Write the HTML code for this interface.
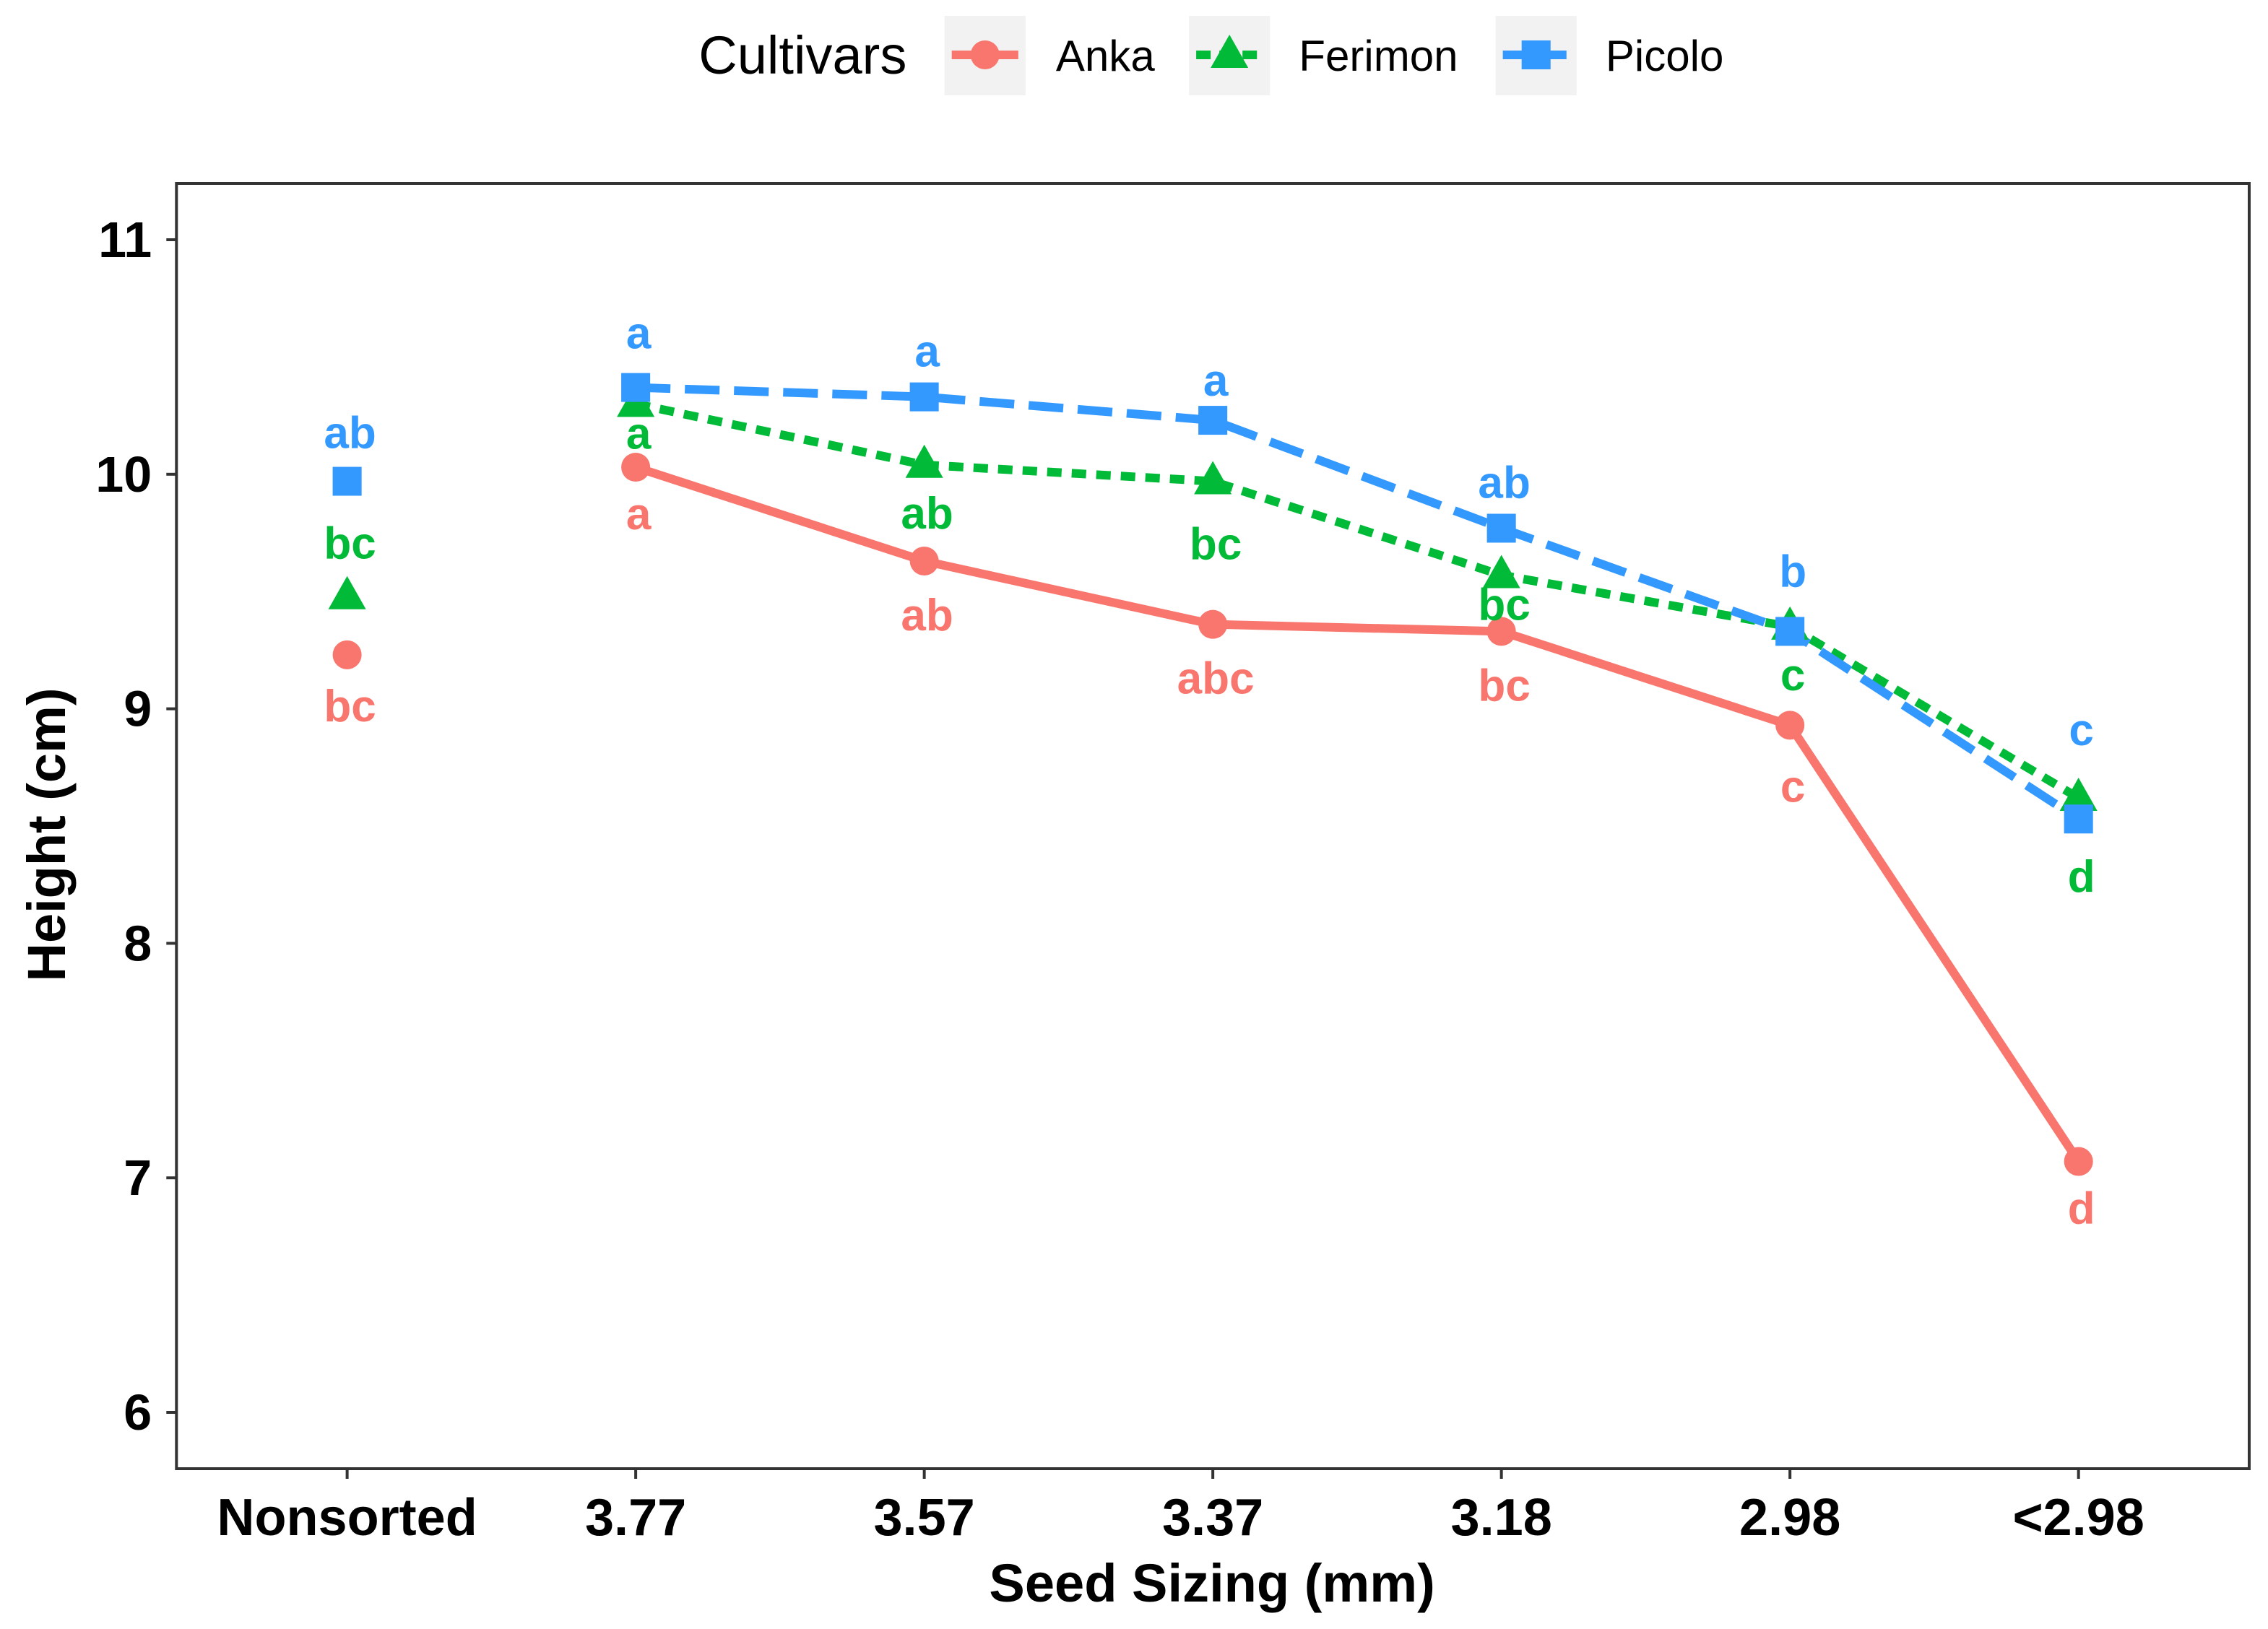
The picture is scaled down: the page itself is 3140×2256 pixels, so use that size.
<!DOCTYPE html>
<html><head><meta charset="utf-8"><style>
html,body{margin:0;padding:0;background:#fff;width:3140px;height:2256px;overflow:hidden}
svg{display:block}
text{font-family:"Liberation Sans",Arial,sans-serif}
</style></head><body>
<svg id="chart" width="3140" height="2256" viewBox="0 0 1568 1128" preserveAspectRatio="none" xmlns="http://www.w3.org/2000/svg">
<g>
<text x="483" y="51" font-size="37" fill="#000">Cultivars</text>
<rect x="653" y="11" width="56" height="55" fill="#f2f2f2"/>
<line x1="658" y1="38" x2="704" y2="38" stroke="#F8766D" stroke-width="6"/>
<circle cx="681" cy="38" r="10" fill="#F8766D"/>
<text x="730" y="49" font-size="30" fill="#000">Anka</text>
<rect x="822" y="11" width="56" height="55" fill="#f2f2f2"/>
<line x1="827" y1="38" x2="873" y2="38" stroke="#00BA38" stroke-width="6" stroke-dasharray="10,6"/>
<polygon points="850,24 863,47 837,47" fill="#00BA38"/>
<text x="898" y="49" font-size="30" fill="#000">Ferimon</text>
<rect x="1034" y="11" width="56" height="55" fill="#f2f2f2"/>
<line x1="1039" y1="38" x2="1085" y2="38" stroke="#3399FF" stroke-width="6" stroke-dasharray="18,8"/>
<rect x="1052" y="28" width="20" height="20" fill="#3399FF"/>
<text x="1110" y="49" font-size="30" fill="#000">Picolo</text>
</g>
<rect x="122" y="127" width="1433" height="890" fill="none" stroke="#333" stroke-width="2"/>
<g id="axes"></g>
<g id="marks"></g>
<text x="838" y="1109" font-size="37" font-weight="bold" text-anchor="middle" fill="#000">Seed Sizing (mm)</text>
<text transform="translate(45,578) rotate(-90)" font-size="37" font-weight="bold" text-anchor="middle" fill="#000">Height (cm)</text>
</svg>
<script>
const categories = ["Nonsorted","3.77","3.57","3.37","3.18","2.98","<2.98"];
const yTicks = [6,7,8,9,10,11];
const ankaValues = [9.23,10.03,9.63,9.36,9.33,8.93,7.07];
const ferimonValues = [9.48,10.30,10.04,9.97,9.57,9.35,8.62];
const picoloValues = [9.97,10.37,10.33,10.23,9.77,9.33,8.53];
const ankaLetters = ["bc","a","ab","abc","bc","c","d"];
const ferimonLetters = ["bc","a","ab","bc","bc","c","d"];
const picoloLetters = ["ab","a","a","a","ab","b","c"];

const NS="http://www.w3.org/2000/svg";
function x(i){return 240+i*199.5;}
function y(v){return 166+(11-v)*162.4;}
function mk(tag,attrs,parent){const e=document.createElementNS(NS,tag);for(const k in attrs)e.setAttribute(k,attrs[k]);parent.appendChild(e);return e;}
const axes=document.getElementById('axes'), marks=document.getElementById('marks');
yTicks.forEach(v=>{
  const t=mk('line',{x1:115,x2:122,y1:y(v),y2:y(v),stroke:'#333','stroke-width':2},axes);
  
  
  const l=mk('text',{x:105,y:y(v)+12,'font-size':35,'font-weight':'bold','text-anchor':'end',fill:'#000'},axes);
  l.textContent=v;
  
  
});
categories.forEach((c,i)=>{
  const t=mk('line',{x1:x(i),x2:x(i),y1:1017,y2:1024,stroke:'#333','stroke-width':2},axes);
  
  
  const l=mk('text',{x:x(i),y:1063,'font-size':36,'font-weight':'bold','text-anchor':'middle',fill:'#000'},axes);
  l.textContent=c;
  
  
});
const series=[
 {name:'anka',vals:ankaValues,letters:ankaLetters,color:'#F8766D',dash:'none',shape:'circle',off:[35,32,37,37,37,42,32]},
 {name:'ferimon',vals:ferimonValues,letters:ferimonLetters,color:'#00BA38',dash:'10,7',shape:'tri',off:[-37,20,33,43,20,33,54]},
 {name:'picolo',vals:picoloValues,letters:picoloLetters,color:'#3399FF',dash:'24,10',shape:'sq',off:[-34,-38,-32,-28,-32,-42,-62]}
];
series.forEach(s=>{
  const pts=s.vals.slice(1).map((v,j)=>x(j+1)+','+y(v)).join(' ');
  const pl=mk('polyline',{points:pts,fill:'none',stroke:s.color,'stroke-width':6,'stroke-dasharray':s.dash,'stroke-linejoin':'round'},marks);
  
  
});
series.forEach(s=>{
  s.vals.forEach((v,i)=>{
    const cx=x(i), cy=y(v); let m;
    if(s.shape==='circle') m=mk('circle',{cx:cx,cy:cy,r:10,fill:s.color},marks);
    else if(s.shape==='tri') m=mk('polygon',{points:`${cx},${cy-14} ${cx+13},${cy+9} ${cx-13},${cy+9}`,fill:s.color},marks);
    else m=mk('rect',{x:cx-10,y:cy-10,width:20,height:20,fill:s.color},marks);
    
    
    const t=mk('text',{x:cx+2,y:cy+s.off[i]+11,'font-size':31,'font-weight':'bold','text-anchor':'middle',fill:s.color},marks);
    t.textContent=s.letters[i];
    
    
  });
});
</script>
</body></html>
